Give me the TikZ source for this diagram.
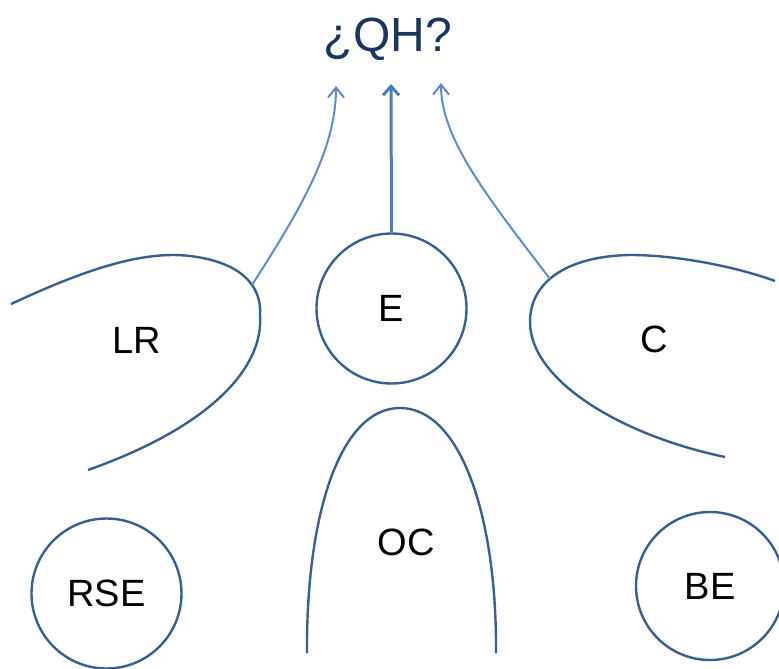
\documentclass[tikz,border=0pt]{standalone}
\usepackage{fontspec}
\setmainfont{Liberation Sans}
\usetikzlibrary{arrows.meta}
\definecolor{outline}{HTML}{3A5F8F}
\definecolor{arrowblue}{HTML}{4A7EBB}
\definecolor{sidearrow}{HTML}{5E8CC8}
\definecolor{titleblue}{HTML}{1C355E}
\tikzset{
  ring/.style={circle, draw=outline, line width=2.4pt, minimum size=150pt, inner sep=0pt, font=\fontsize{38}{40}\selectfont},
  shapeline/.style={draw=outline, line width=2.4pt},
  lbl/.style={font=\fontsize{38}{40}\selectfont, inner sep=0pt, anchor=base},
  sidearr/.style={draw=sidearrow, line width=2pt, -{Straight Barb[length=10pt,width=16pt,line width=2pt]}},
  mainarr/.style={draw=arrowblue, line width=3pt, -{Straight Barb[length=9pt,width=16pt,line width=3pt]}}
}
\begin{document}
\begin{tikzpicture}[x=1pt,y=-1pt]
\useasboundingbox (0,0) rectangle (779,669);
% title
\node[lbl, text=titleblue, font=\fontsize{48}{50}\selectfont] (qh) at (388,52) {¿QH?};
% circles
\node[ring] (E) at (391.5,308.5) {E};
\node[ring] (RSE) at (106.5,593.5) {RSE};
\node[ring, minimum size=148pt] (BE) at (710,586) {BE};
% open shapes
\draw[shapeline] (11,304) .. controls (80,272) and (140,250) .. (190,256)
  .. controls (240,262) and (262,285) .. (260,315)
  .. controls (264,365) and (215,425) .. (88,470);
\draw[shapeline] (775,281) .. controls (740,268) and (680,255) .. (630,255)
  .. controls (570,256) and (530,280) .. (530,322)
  .. controls (530,380) and (620,435) .. (725,457);
\draw[shapeline] (307,653) .. controls (306,515) and (340,408) .. (400,408)
  .. controls (460,408) and (497,515) .. (496,653);
% labels
\node[lbl] (LR) at (137,353) {LR};
\node[lbl] (C) at (654,352) {C};
\node[lbl] (OC) at (406,555) {OC};
% arrow anchors
\coordinate (lrstart) at (252,285);
\coordinate (lrend) at (336,86);
\coordinate (cstart) at (550,279);
\coordinate (cend) at (441,83);
\coordinate (eend) at (391,84);
% arrows
\draw[mainarr] (E.north) -- (eend);
\draw[sidearr] (lrstart) .. controls (300,210) and (336,150) .. (lrend);
\draw[sidearr] (cstart) .. controls (490,200) and (441,140) .. (cend);
\end{tikzpicture}
\end{document}
